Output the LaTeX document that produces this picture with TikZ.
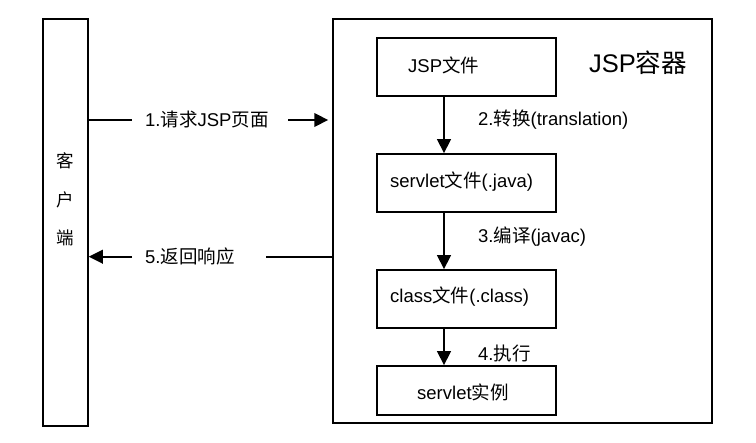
\documentclass[tikz,border=0pt]{standalone}
\usepackage{fontspec}
\setmainfont{Liberation Sans}
\newfontfamily\cjk{Noto Sans CJK SC}
\usetikzlibrary{arrows.meta}
\begin{document}
\begin{tikzpicture}[x=1pt,y=-1pt,
  box/.style={draw,line width=1.5pt,inner sep=0pt,minimum width=179pt},
  lbl/.style={inner sep=0pt,font=\fontsize{18.5}{21}\selectfont},
  conn/.style={line width=2.2pt},
  tip/.style={conn,-{Triangle[width=13.5pt,length=14pt]}}]
\useasboundingbox (0,0) rectangle (756,443);
% frames
\node[draw,line width=1.5pt,minimum width=45pt,minimum height=407pt,inner sep=0pt] (client) at (65.5,222.5) {};
\node[draw,line width=1.5pt,minimum width=379pt,minimum height=404pt,inner sep=0pt] (cont) at (522.5,221) {};
\node[lbl,align=center,font=\fontsize{17.5}{38.5}\selectfont] (ctext) at (65,199.5) {{\cjk 客}\\{\cjk 户}\\{\cjk 端}};
\node[lbl,anchor=west,font=\fontsize{25.5}{28}\selectfont] (ctitle) at (589,63) {JSP{\cjk 容器}};
% inner boxes
\node[box,minimum height=58pt] (jsp) at (466.5,67) {};
\node[box,minimum height=58pt] (srv) at (466.5,183) {};
\node[box,minimum height=58pt] (cls) at (466.5,299) {};
\node[box,minimum height=49pt] (ins) at (466.5,390.5) {};
\node[lbl,anchor=west] (tjsp) at (408,65.7) {JSP{\cjk 文件}};
\node[lbl,anchor=west] (tsrv) at (390,181.7) {servlet{\cjk 文件}(.java)};
\node[lbl,anchor=west] (tcls) at (390,297) {class{\cjk 文件}(.class)};
\node[lbl,anchor=west] (tins) at (417,392.7) {servlet{\cjk 实例}};
% vertical arrows
\coordinate (ax) at (444,0);
\draw[tip] (jsp.south -| ax) -- (srv.north -| ax);
\draw[tip] (srv.south -| ax) -- (cls.north -| ax);
\draw[tip] (cls.south -| ax) -- (ins.north -| ax);
\node[lbl,anchor=west] (l2) at (478,120) {2.{\cjk 转换}(translation)};
\node[lbl,anchor=west] (l3) at (478,237) {3.{\cjk 编译}(javac)};
\node[lbl,anchor=west] (l4) at (478,353) {4.{\cjk 执行}};
% horizontal arrows
\node[lbl,anchor=west] (l1) at (145,120) {1.{\cjk 请求}JSP{\cjk 页面}};
\node[lbl,anchor=west] (l5) at (145,256.7) {5.{\cjk 返回响应}};
\coordinate (r1a) at (132,120);
\coordinate (r1b) at (288,120);
\coordinate (r5a) at (132,256.7);
\coordinate (r5b) at (266,256.7);
\draw[conn] (client.east |- r1a) -- (r1a);
\draw[tip] (r1b) -- ([xshift=-4pt]cont.west |- r1b);
\draw[tip] (r5a) -- (client.east |- r5a);
\draw[conn] (r5b) -- (cont.west |- r5b);
\end{tikzpicture}
\end{document}
